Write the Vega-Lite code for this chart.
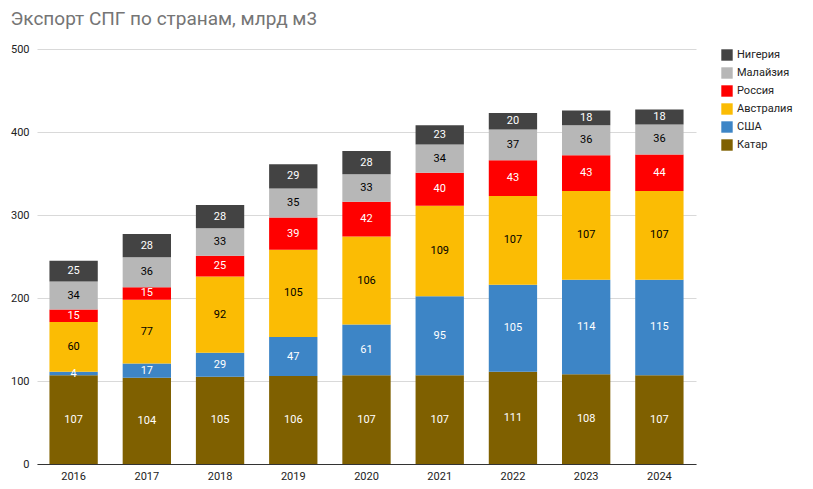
{
"$schema":"https://vega.github.io/schema/vega-lite/v6.json",
"width":813,"height":489,
"autosize":{"type":"fit","contains":"padding"},
"padding":{"left":10,"top":10,"right":20,"bottom":8},
"title":{"text":"Экспорт СПГ по странам, млрд м3","anchor":"start","font":"Roboto","fontSize":19,"fontWeight":"normal","color":"#757575","offset":14},
"config":{"view":{"stroke":null},"font":"Roboto"},
"data":{"values":[
{"year":"2016","s":"Катар","o":1,"v":107},{"year":"2016","s":"США","o":2,"v":4},{"year":"2016","s":"Австралия","o":3,"v":60},{"year":"2016","s":"Россия","o":4,"v":15},{"year":"2016","s":"Малайзия","o":5,"v":34},{"year":"2016","s":"Нигерия","o":6,"v":25},
{"year":"2017","s":"Катар","o":1,"v":104},{"year":"2017","s":"США","o":2,"v":17},{"year":"2017","s":"Австралия","o":3,"v":77},{"year":"2017","s":"Россия","o":4,"v":15},{"year":"2017","s":"Малайзия","o":5,"v":36},{"year":"2017","s":"Нигерия","o":6,"v":28},
{"year":"2018","s":"Катар","o":1,"v":105},{"year":"2018","s":"США","o":2,"v":29},{"year":"2018","s":"Австралия","o":3,"v":92},{"year":"2018","s":"Россия","o":4,"v":25},{"year":"2018","s":"Малайзия","o":5,"v":33},{"year":"2018","s":"Нигерия","o":6,"v":28},
{"year":"2019","s":"Катар","o":1,"v":106},{"year":"2019","s":"США","o":2,"v":47},{"year":"2019","s":"Австралия","o":3,"v":105},{"year":"2019","s":"Россия","o":4,"v":39},{"year":"2019","s":"Малайзия","o":5,"v":35},{"year":"2019","s":"Нигерия","o":6,"v":29},
{"year":"2020","s":"Катар","o":1,"v":107},{"year":"2020","s":"США","o":2,"v":61},{"year":"2020","s":"Австралия","o":3,"v":106},{"year":"2020","s":"Россия","o":4,"v":42},{"year":"2020","s":"Малайзия","o":5,"v":33},{"year":"2020","s":"Нигерия","o":6,"v":28},
{"year":"2021","s":"Катар","o":1,"v":107},{"year":"2021","s":"США","o":2,"v":95},{"year":"2021","s":"Австралия","o":3,"v":109},{"year":"2021","s":"Россия","o":4,"v":40},{"year":"2021","s":"Малайзия","o":5,"v":34},{"year":"2021","s":"Нигерия","o":6,"v":23},
{"year":"2022","s":"Катар","o":1,"v":111},{"year":"2022","s":"США","o":2,"v":105},{"year":"2022","s":"Австралия","o":3,"v":107},{"year":"2022","s":"Россия","o":4,"v":43},{"year":"2022","s":"Малайзия","o":5,"v":37},{"year":"2022","s":"Нигерия","o":6,"v":20},
{"year":"2023","s":"Катар","o":1,"v":108},{"year":"2023","s":"США","o":2,"v":114},{"year":"2023","s":"Австралия","o":3,"v":107},{"year":"2023","s":"Россия","o":4,"v":43},{"year":"2023","s":"Малайзия","o":5,"v":36},{"year":"2023","s":"Нигерия","o":6,"v":18},
{"year":"2024","s":"Катар","o":1,"v":107},{"year":"2024","s":"США","o":2,"v":115},{"year":"2024","s":"Австралия","o":3,"v":107},{"year":"2024","s":"Россия","o":4,"v":44},{"year":"2024","s":"Малайзия","o":5,"v":36},{"year":"2024","s":"Нигерия","o":6,"v":18}
]},
"transform":[
{"stack":"v","groupby":["year"],"sort":[{"field":"o"}],"as":["y0","y1"]},
{"calculate":"(datum.y0+datum.y1)/2","as":"mid"}
],
"encoding":{"x":{"field":"year","type":"nominal","title":null,"scale":{"paddingInner":0.34,"paddingOuter":0.17},"axis":{"labelAngle":0,"labelFontSize":11,"labelColor":"#222","domainColor":"#333","ticks":false,"labelPadding":6}}},
"layer":[
{"mark":{"type":"bar"},"encoding":{
"y":{"field":"y0","type":"quantitative","title":null,"scale":{"domain":[0,500]},"axis":{"values":[0,100,200,300,400,500],"labelFontSize":11,"labelColor":"#222","domain":false,"ticks":false,"gridColor":"#d9d9d9","labelPadding":8}},
"y2":{"field":"y1"},
"color":{"field":"s","type":"nominal","title":null,"scale":{"domain":["Нигерия","Малайзия","Россия","Австралия","США","Катар"],"range":["#434343","#b7b7b7","#ff0000","#fbbc04","#3d85c6","#7f6000"]},
"legend":{"orient":"right","symbolType":"square","symbolSize":130,"symbolStrokeWidth":0,"labelFontSize":11,"labelColor":"#222","rowPadding":6,"offset":25}}
}},
{"mark":{"type":"text","fontSize":11,"baseline":"middle"},"encoding":{
"y":{"field":"mid","type":"quantitative"},
"text":{"field":"v","type":"quantitative"},
"color":{"condition":{"test":"datum.s==='Австралия'||datum.s==='Малайзия'","value":"#000"},"value":"#fff"}
}}
]
}
